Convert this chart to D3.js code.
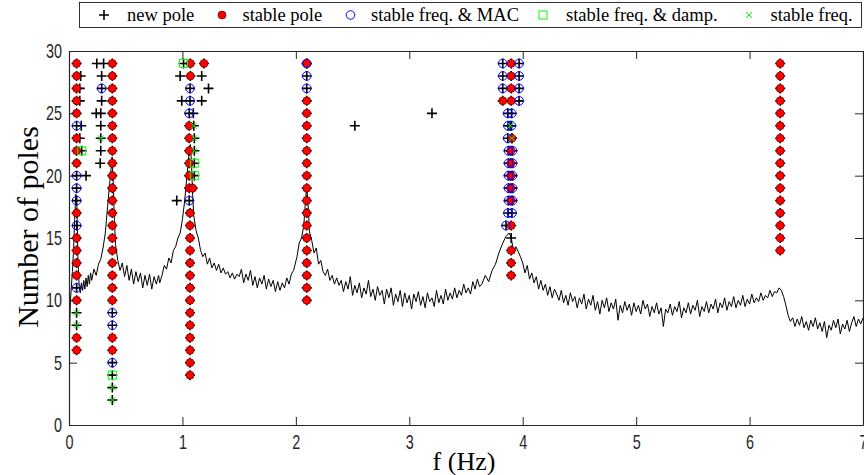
<!DOCTYPE html>
<html>
<head>
<meta charset="utf-8">
<script src="https://cdn.jsdelivr.net/npm/d3@7"></script>
<style>
  body { margin: 0; background: #fff; }
  svg { display: block; }
</style>
</head>
<body>
<div id="chart"></div>
<script>
// tick values
var xTicks = [0, 1, 2, 3, 4, 5, 6, 7];
var yTicks = [0, 5, 10, 15, 20, 25, 30];

// spectrum drawn behind the diagram, [f (Hz), scaled amplitude]
var spectrum = [
  [0.00,6.3],[0.005,7.5],[0.013,10.0],[0.02,11.0],[0.03,12.3],[0.04,14.0],[0.05,16.5],[0.06,18.5],
  [0.07,17.5],[0.075,15.0],[0.08,13.0],
  [0.09,11.0],[0.10,10.6],[0.11,11.4],[0.12,10.8],[0.13,11.6],[0.14,10.9],[0.15,11.8],[0.16,11.1],
  [0.17,12.0],[0.18,11.3],[0.19,12.2],[0.20,11.6],[0.22,12.5],[0.24,12.0],[0.26,12.9],[0.28,13.3],
  [0.30,14.2],[0.32,15.4],[0.34,17.5],[0.36,19.5],[0.37,20.5],[0.38,21.5],[0.39,19.5],[0.40,16.5],
  [0.41,14.5],[0.43,13.2],[0.45,12.4],[0.47,13.0],[0.49,11.9],[0.51,12.8],[0.53,11.6],[0.55,12.5],
  [0.57,11.3],[0.59,12.3],[0.61,11.5],[0.63,12.2],[0.65,11.0],[0.67,12.0],[0.69,11.2],[0.71,12.1],
  [0.73,10.9],[0.75,11.9],[0.77,11.3],[0.79,12.0],[0.80,11.4],[0.82,12.0],[0.84,12.8],[0.86,12.5],
  [0.88,13.4],[0.90,13.0],[0.92,14.0],[0.94,14.3],[0.96,15.0],[0.98,15.4],[1.00,16.5],[1.02,18.0],
  [1.04,20.0],[1.06,22.0],[1.07,22.5],[1.08,21.0],[1.09,18.5],[1.10,16.8],[1.12,15.6],[1.14,15.0],
  [1.16,14.0],[1.18,13.5],[1.20,13.8],[1.22,12.9],[1.24,13.4],[1.26,12.6],[1.28,13.0],[1.30,12.4],
  [1.32,12.9],[1.34,12.2],[1.36,12.6],[1.38,12.1],[1.40,12.3],[1.42,11.8],[1.44,12.2],[1.46,11.7],
  [1.48,12.1],[1.50,11.9],[1.52,12.5],[1.54,11.4],[1.56,12.1],[1.58,11.6],[1.60,12.4],[1.62,11.2],
  [1.64,11.9],[1.66,11.0],[1.68,11.8],[1.70,11.3],[1.72,12.0],[1.74,10.9],[1.76,11.7],[1.78,11.1],
  [1.80,11.6],[1.82,10.7],[1.84,11.5],[1.86,10.8],[1.88,11.4],[1.90,11.0],[1.92,11.8],[1.94,11.3],
  [1.96,12.1],[1.98,12.4],[2.01,13.5],[2.03,14.6],[2.05,15.0],[2.07,16.0],[2.085,18.0],
  [2.095,19.0],[2.105,18.2],[2.12,15.5],[2.14,14.8],[2.16,13.8],[2.18,14.2],[2.20,12.9],[2.22,13.2],
  [2.24,12.3],[2.26,12.0],[2.28,12.5],[2.30,11.6],[2.32,12.0],[2.34,11.3],[2.36,11.8],[2.38,11.2],
  [2.40,11.6],[2.42,10.7],[2.44,11.5],[2.46,10.9],[2.48,11.9],[2.50,10.4],[2.52,11.2],[2.54,10.6],
  [2.56,11.4],[2.58,10.2],[2.60,11.0],[2.62,10.5],[2.64,11.6],[2.66,10.3],[2.68,10.9],[2.70,10.0],
  [2.72,11.1],[2.74,10.4],[2.76,10.8],[2.78,9.7],[2.80,10.9],[2.82,10.2],[2.84,11.0],[2.86,9.6],
  [2.88,10.5],[2.90,9.9],[2.92,10.8],[2.94,9.5],[2.96,10.6],[2.98,9.8],[3.00,10.4],[3.02,9.3],
  [3.04,10.5],[3.06,9.9],[3.08,10.7],[3.10,9.6],[3.12,10.3],[3.14,9.4],[3.16,10.6],[3.18,9.9],
  [3.20,10.2],[3.22,9.5],[3.24,10.8],[3.26,9.8],[3.28,10.4],[3.30,9.7],[3.32,10.9],[3.34,10.0],
  [3.36,10.6],[3.38,10.1],[3.40,11.0],[3.42,10.2],[3.44,10.8],[3.46,10.4],[3.48,11.3],[3.50,10.6],
  [3.52,11.0],[3.54,10.5],[3.56,11.5],[3.58,10.9],[3.60,11.7],[3.62,11.1],
  [3.64,11.3],[3.67,12.0],[3.70,11.5],[3.73,12.4],[3.76,12.9],[3.79,13.8],[3.82,14.5],
  [3.85,15.1],[3.88,15.4],[3.90,15.0],[3.92,13.8],[3.94,14.3],[3.96,13.9],[3.98,13.5],[4.00,13.0],
  [4.02,12.2],[4.04,12.8],[4.06,11.7],[4.08,12.2],[4.10,11.4],[4.12,11.9],[4.14,10.9],[4.16,11.6],
  [4.18,10.8],[4.20,11.3],[4.22,10.4],[4.24,11.1],[4.26,10.2],[4.28,10.9],[4.30,10.5],
  [4.32,10.0],[4.34,10.8],[4.36,9.8],[4.38,10.4],[4.40,9.6],[4.42,10.6],[4.44,9.9],[4.46,10.3],
  [4.48,9.4],[4.50,10.2],[4.52,9.7],[4.54,10.5],[4.56,9.3],[4.58,10.1],[4.60,9.6],[4.62,10.4],
  [4.64,9.2],[4.66,9.9],[4.68,8.9],[4.70,10.0],[4.72,9.4],[4.74,10.2],[4.76,9.1],[4.78,9.8],
  [4.80,9.3],[4.82,10.1],[4.84,8.4],[4.86,9.6],[4.88,9.0],[4.90,9.9],[4.92,9.2],[4.94,9.7],
  [4.96,8.8],[4.98,9.8],[5.00,9.1],[5.02,9.6],[5.04,8.9],[5.06,10.0],[5.08,9.3],[5.10,9.7],
  [5.12,8.7],[5.14,9.5],[5.16,9.0],[5.18,9.8],[5.20,8.9],[5.22,9.4],[5.24,7.9],[5.26,9.3],
  [5.28,9.0],[5.30,9.7],[5.32,8.8],[5.34,9.5],[5.36,9.1],[5.38,9.9],[5.40,8.6],[5.42,9.4],
  [5.44,9.0],[5.46,9.8],[5.48,8.9],[5.50,9.6],[5.52,9.2],[5.54,10.0],[5.56,8.7],[5.58,9.5],
  [5.60,9.1],[5.62,9.9],[5.64,9.0],[5.66,9.7],[5.68,9.3],[5.70,10.1],[5.72,9.0],[5.74,9.8],
  [5.76,9.4],[5.78,10.2],[5.80,9.2],[5.82,9.9],[5.84,9.5],[5.86,10.3],[5.88,9.4],[5.90,10.0],
  [5.92,9.6],[5.94,10.4],[5.96,9.5],[5.98,10.1],[6.00,9.7],[6.02,10.5],[6.04,9.8],[6.06,10.2],
  [6.08,9.9],[6.10,10.6],[6.12,10.0],[6.14,10.4],[6.16,10.2],[6.18,10.8],[6.20,10.3],[6.22,10.7],
  [6.24,10.6],[6.26,11.0],[6.28,10.8],[6.30,10.3],[6.32,9.6],[6.34,8.8],[6.36,8.3],[6.38,8.6],
  [6.40,7.9],[6.42,8.5],[6.44,8.0],[6.46,8.7],[6.48,7.8],[6.50,8.3],[6.52,7.6],[6.54,8.4],
  [6.56,7.9],[6.58,8.6],[6.60,7.7],[6.62,8.2],[6.64,7.5],[6.66,8.3],[6.68,7.0],[6.70,8.0],
  [6.72,7.6],[6.74,8.4],[6.76,7.8],[6.78,8.5],[6.80,7.3],[6.82,8.1],[6.84,7.7],[6.86,8.4],
  [6.88,7.5],[6.90,8.2],[6.92,8.7],[6.94,7.9],[6.96,8.5],[6.98,8.1],[7.00,8.6]
];

// poles, [f (Hz), model order]
var newPole = [
  [0.103,28],[0.095,27],[0.095,26],[0.108,24],[0.095,23],[0.15,20],
  [0.245,29],[0.305,29],[0.288,28],[0.288,26],[0.24,25],[0.28,25],[0.28,24],[0.28,22],[0.275,21],
  [0.98,28],[1.17,28],[1.23,27],[0.994,26],[1.17,26],[1.096,25],[0.95,18],
  [2.52,24],[3.20,25],[3.898,15]
];

var stablePole = [
  [0.067,29],[0.067,28],[0.067,27],[0.067,26],[0.067,25],[0.067,23],[0.067,22],[0.067,21],
  [0.067,17],[0.067,15],[0.067,14],[0.067,13],[0.067,12],[0.067,10],[0.067,7],[0.067,6],
  [0.382,29],[0.382,28],[0.382,27],[0.382,26],[0.382,25],[0.382,24],[0.382,23],[0.382,22],
  [0.382,21],[0.382,20],[0.382,19],[0.382,18],[0.382,17],[0.382,16],[0.382,15],[0.382,14],
  [0.382,13],[0.382,12],[0.382,11],[0.382,10],[0.382,7],[0.382,6],
  [1.07,29],[1.19,29],[1.07,28],[1.06,24],[1.06,23],[1.06,22],[1.06,21],[1.06,20],[1.06,19],[1.09,19],
  [1.067,17],[1.067,16],[1.067,15],[1.067,14],[1.067,13],[1.067,12],[1.067,11],[1.067,10],
  [1.067,9],[1.067,8],[1.067,7],[1.067,6],[1.067,5],[1.067,4],
  [2.096,29],[2.096,26],[2.096,25],[2.096,24],[2.096,23],[2.096,22],[2.096,21],[2.096,20],
  [2.096,19],[2.096,18],[2.096,17],[2.096,16],[2.096,15],[2.096,14],[2.096,13],[2.096,12],
  [2.096,11],[2.096,10],
  [3.898,29],[3.898,28],[3.898,27],[3.824,26],[3.898,26],[3.905,23],[3.895,22],[3.895,21],
  [3.895,20],[3.895,19],[3.895,18],[3.898,16],[3.898,14],[3.898,13],[3.898,12],
  [6.27,29],[6.27,28],[6.27,27],[6.27,26],[6.27,25],[6.27,24],[6.27,23],[6.27,22],
  [6.27,21],[6.27,20],[6.27,19],[6.27,18],[6.27,17],[6.27,16],[6.27,15],[6.27,14]
];

var stableMac = [
  [0.067,24],[0.067,20],[0.067,19],[0.067,18],[0.067,16],[0.067,11],[0.288,27],
  [0.382,9],[0.382,8],[0.382,5],
  [1.067,27],[1.067,26],[1.06,25],[1.06,18],
  [2.096,29],[2.096,28],[2.096,27],
  [3.824,29],[3.968,29],[3.824,28],[3.968,28],[3.824,27],[3.968,27],[3.968,26],
  [3.868,25],[3.903,25],[3.87,24],[3.90,24],[3.868,23],
  [3.875,22],[3.91,22],[3.875,21],[3.91,21],[3.875,20],[3.91,20],[3.875,19],[3.91,19],
  [3.875,18],[3.91,18],[3.87,17],[3.905,17],[3.853,16]
];

var stableDamp = [[0.112,22],[0.382,4],[1.01,29],[1.105,21],[1.105,20]];

var stableFreq = [
  [0.28,23],[0.067,9],[0.067,8],[0.382,3],[0.382,2],
  [1.10,24],[1.105,23],[1.105,22],[3.89,24],[3.905,23]
];

var legendLabels = ["new pole", "stable pole", "stable freq. & MAC", "stable freq. & damp.", "stable freq."];

var W = 864, H = 475;
var margin = {top: 51, right: 1, bottom: 50, left: 69};

var svg = d3.select("#chart").append("svg")
  .attr("width", W)
  .attr("height", H);

var x = d3.scaleLinear().domain([0, 7]).range([margin.left, W - margin.right]);
var y = d3.scaleLinear().domain([0, 30]).range([H - margin.bottom, margin.top]);

var axisColor = "#262626";
var squeeze = 0.72;  // narrow tick font

svg.append("defs").append("clipPath").attr("id", "plotclip")
  .append("rect")
  .attr("x", x(0)).attr("y", y(30))
  .attr("width", x(7) - x(0)).attr("height", y(0) - y(30));

// spectrum line
var line = d3.line()
  .x(function(d) { return x(d[0]); })
  .y(function(d) { return y(d[1]); });

svg.append("path")
  .datum(spectrum)
  .attr("clip-path", "url(#plotclip)")
  .attr("fill", "none")
  .attr("stroke", "#000")
  .attr("stroke-width", 1)
  .attr("d", line);

// axes, ticks pointing inward
var gx = svg.append("g")
  .attr("transform", "translate(0," + y(0) + ")")
  .call(d3.axisBottom(x).tickValues(xTicks).tickSize(-8).tickSizeOuter(0).tickPadding(10).tickFormat(d3.format("d")));
var gy = svg.append("g")
  .attr("transform", "translate(" + x(0) + ",0)")
  .call(d3.axisLeft(y).tickValues(yTicks).tickSize(-8).tickSizeOuter(0).tickPadding(7).tickFormat(d3.format("d")));
var gt = svg.append("g")
  .attr("transform", "translate(0," + y(30) + ")")
  .call(d3.axisTop(x).tickValues(xTicks).tickSize(-8).tickSizeOuter(0).tickFormat(""));
var gr = svg.append("g")
  .attr("transform", "translate(" + x(7) + ",0)")
  .call(d3.axisRight(y).tickValues(yTicks).tickSize(-8).tickSizeOuter(0).tickFormat(""));

[gx, gy, gt, gr].forEach(function(g) {
  g.select(".domain").attr("stroke", axisColor).attr("stroke-width", 1.2);
  g.selectAll(".tick line").attr("stroke", axisColor);
});

gx.selectAll(".tick text")
  .attr("font-family", "'Liberation Sans', Arial, sans-serif")
  .attr("font-size", 20)
  .attr("fill", axisColor)
  .attr("transform", "scale(" + squeeze + ",1)");

gy.selectAll(".tick text")
  .attr("font-family", "'Liberation Sans', Arial, sans-serif")
  .attr("font-size", 20)
  .attr("fill", axisColor)
  .attr("x", -7 / squeeze)
  .attr("transform", "scale(" + squeeze + ",1)");

// axis titles
svg.append("text")
  .attr("x", 464)
  .attr("y", 470)
  .attr("text-anchor", "middle")
  .attr("font-family", "'Liberation Serif', 'Times New Roman', serif")
  .attr("font-size", 26)
  .attr("fill", "#000")
  .text("f (Hz)");

svg.append("text")
  .attr("transform", "translate(38," + 227 + ") rotate(-90)")
  .attr("text-anchor", "middle")
  .attr("font-family", "'Liberation Serif', 'Times New Roman', serif")
  .attr("font-size", 30)
  .attr("fill", "#000")
  .text("Number of poles");

// marker drawing helpers
function drawPlus(g, cx, cy, s) {
  g.append("path")
    .attr("d", "M" + (cx - s) + "," + cy + "H" + (cx + s) + "M" + cx + "," + (cy - s) + "V" + (cy + s))
    .attr("stroke", "#000")
    .attr("stroke-width", 1.6)
    .attr("fill", "none");
}
function drawDot(g, cx, cy) {
  g.append("circle").attr("cx", cx).attr("cy", cy).attr("r", 4)
    .attr("fill", "#ff0000").attr("stroke", "#400000").attr("stroke-width", 0.6);
}
function drawRing(g, cx, cy) {
  g.append("circle").attr("cx", cx).attr("cy", cy).attr("r", 4.3)
    .attr("fill", "none").attr("stroke", "#0000ff").attr("stroke-width", 1);
}
function drawSquare(g, cx, cy) {
  g.append("rect").attr("x", cx - 4).attr("y", cy - 4).attr("width", 8).attr("height", 8)
    .attr("fill", "none").attr("stroke", "#00ff00").attr("stroke-width", 1);
}
function drawCross(g, cx, cy) {
  var s = 3;
  g.append("path")
    .attr("d", "M" + (cx - s) + "," + (cy - s) + "L" + (cx + s) + "," + (cy + s) + "M" + (cx - s) + "," + (cy + s) + "L" + (cx + s) + "," + (cy - s))
    .attr("stroke", "#00ff00").attr("stroke-width", 1).attr("fill", "none");
}

var marks = svg.append("g");
// every pole first gets a "+", the stability markers go on top
newPole.concat(stablePole, stableMac, stableDamp, stableFreq).forEach(function(d) {
  drawPlus(marks, x(d[0]), y(d[1]), 5);
});
stablePole.forEach(function(d) { drawDot(marks, x(d[0]), y(d[1])); });
stableMac.forEach(function(d) { drawRing(marks, x(d[0]), y(d[1])); });
stableDamp.forEach(function(d) { drawSquare(marks, x(d[0]), y(d[1])); });
stableFreq.forEach(function(d) { drawCross(marks, x(d[0]), y(d[1])); });

// legend
var legend = svg.append("g");
legend.append("rect")
  .attr("x", 79.5).attr("y", 2.5)
  .attr("width", 782).attr("height", 25)
  .attr("fill", "#fff").attr("stroke", "#000").attr("stroke-width", 0.8);

var symX = [104, 222, 350.5, 543, 749];
var textX = [127, 242.5, 371, 566, 770.5];
var ly = 15;
drawPlus(legend, symX[0], ly, 5);
drawDot(legend, symX[1], ly);
drawRing(legend, symX[2], ly);
drawSquare(legend, symX[3], ly);
drawCross(legend, symX[4], ly);

legendLabels.forEach(function(t, i) {
  legend.append("text")
    .attr("x", textX[i])
    .attr("y", 21)
    .attr("font-family", "'Liberation Serif', 'Times New Roman', serif")
    .attr("font-size", 18.5)
    .attr("fill", "#000")
    .text(t);
});
</script>
</body>
</html>
